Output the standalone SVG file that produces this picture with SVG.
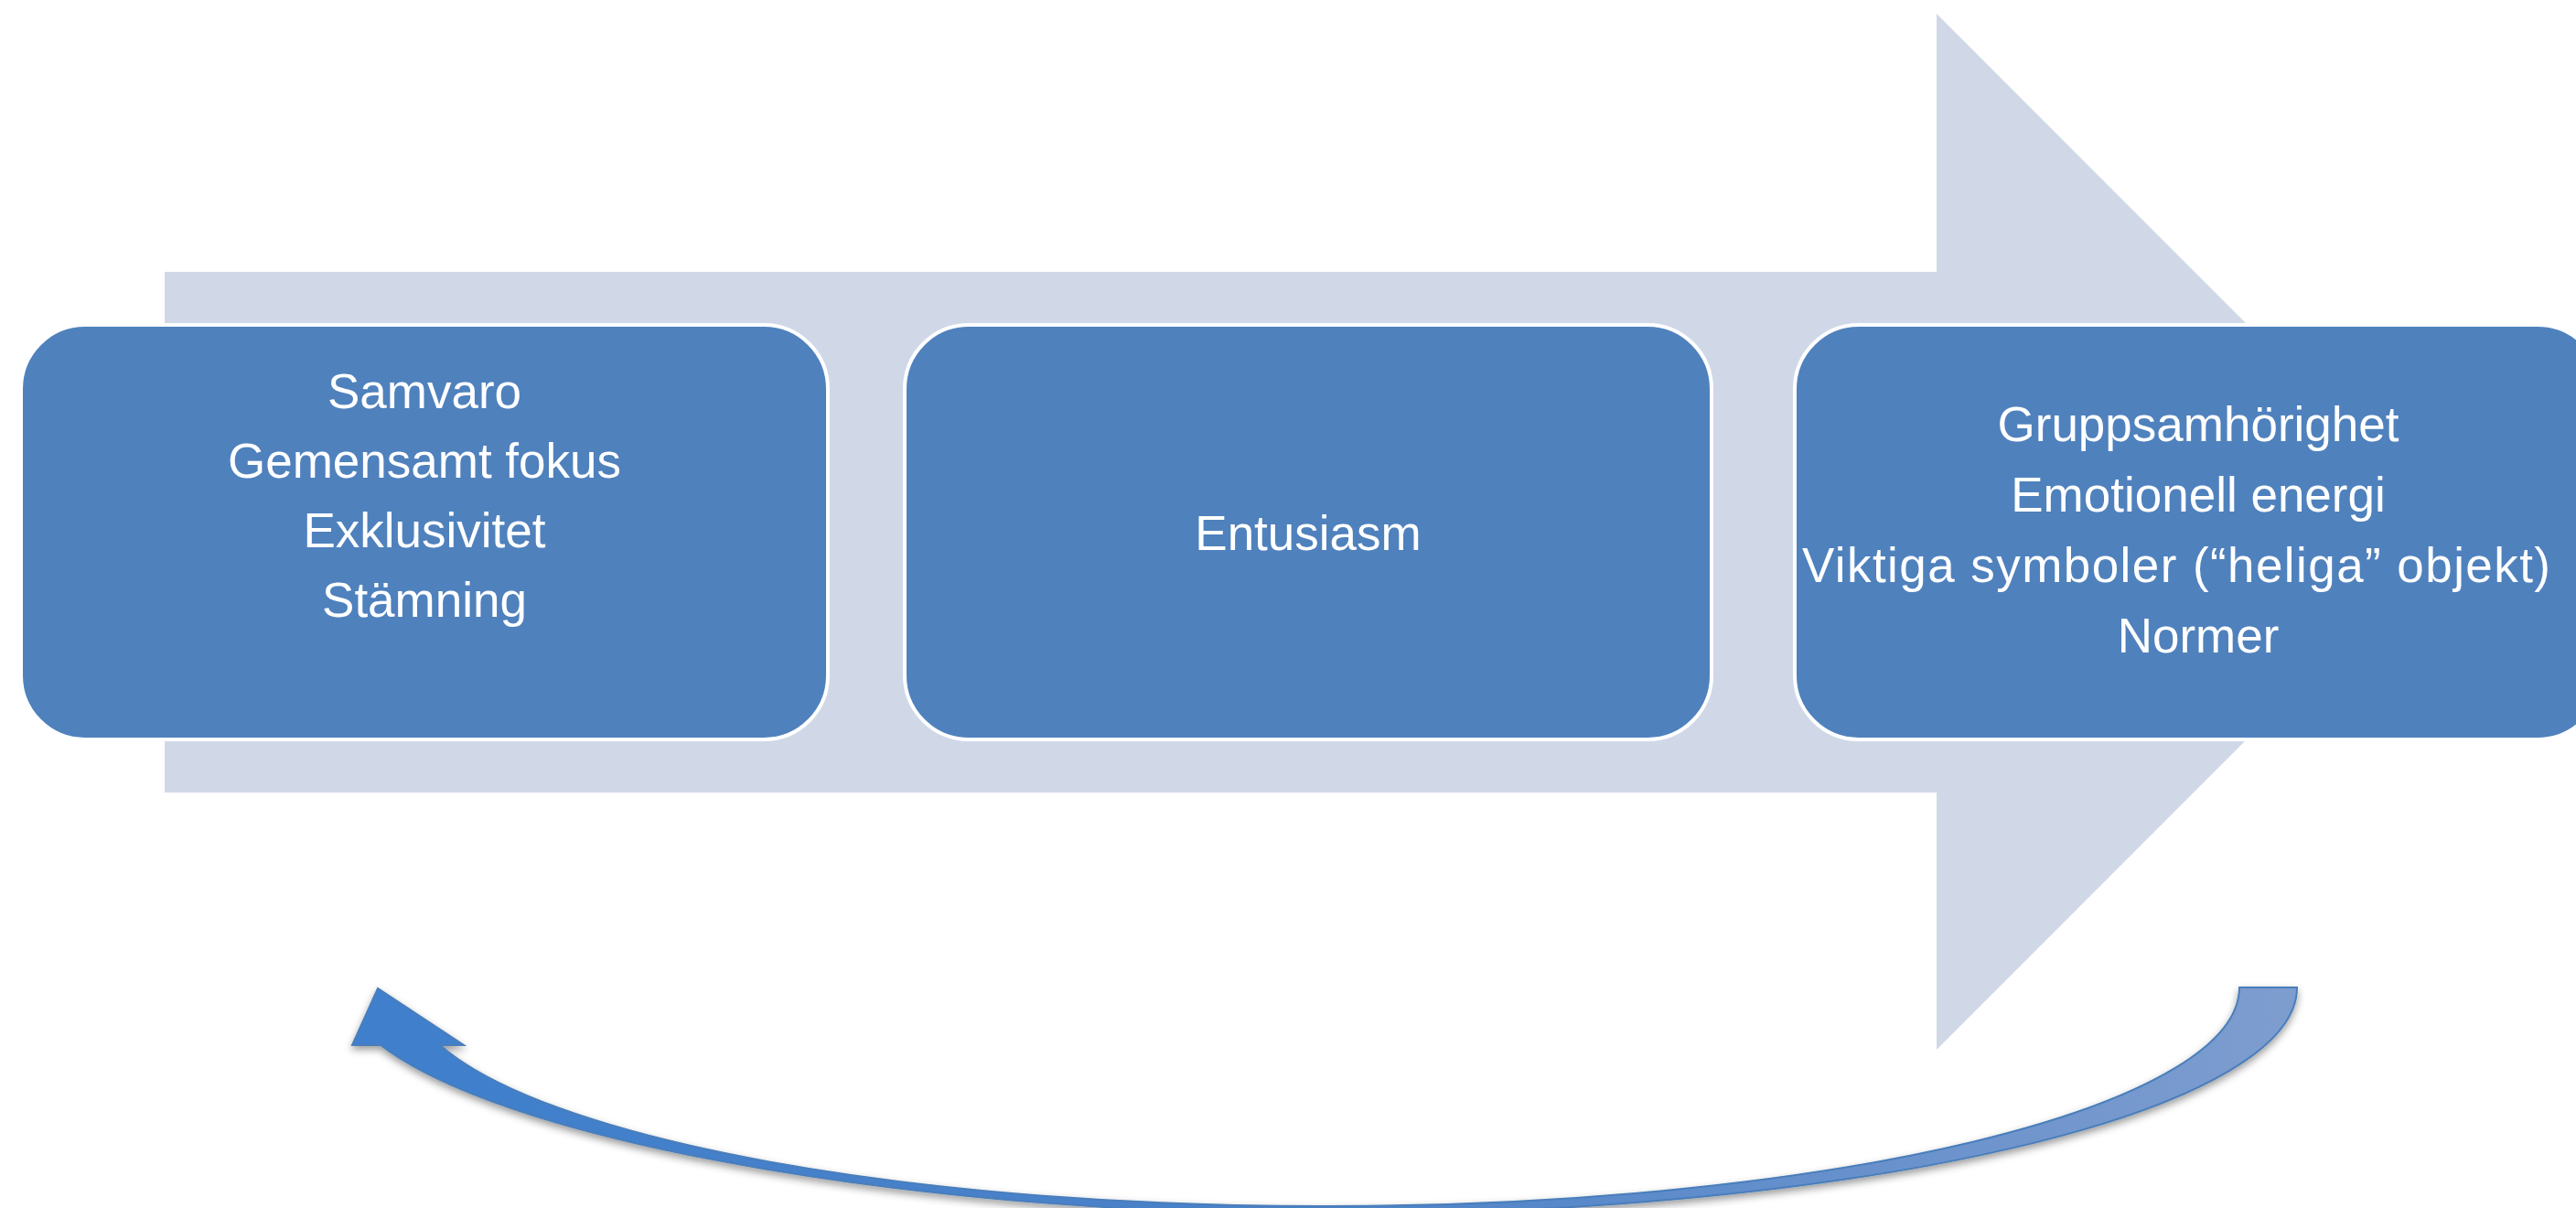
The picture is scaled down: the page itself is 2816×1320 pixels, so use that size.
<svg xmlns="http://www.w3.org/2000/svg" width="2816" height="1320" viewBox="0 0 2816 1320">
  <defs>
    <style>
      .box { fill: #4F81BD; stroke: #FFFFFF; stroke-width: 4; }
      .lbl { font-family: "Liberation Sans", Arial, sans-serif; font-size: 53px; fill: #FFFFFF; text-anchor: middle; }
    </style>
    <linearGradient id="curveGrad" x1="0" y1="0" x2="1" y2="0">
      <stop offset="0" stop-color="#3F7FCC"/>
      <stop offset="0.5" stop-color="#4C82C8"/>
      <stop offset="1" stop-color="#7E9DCF"/>
    </linearGradient>
    <filter id="shadow" x="-5%" y="-20%" width="110%" height="150%">
      <feDropShadow dx="0" dy="4" stdDeviation="4" flood-color="#000000" flood-opacity="0.4"/>
    </filter>
  </defs>
  <rect width="2816" height="1320" fill="#FFFFFF"/>

  <g id="background-arrow">
    <path d="M180,297 L2117,297 L2117,15 L2683,581 L2117,1147 L2117,866 L180,866 Z" fill="#D0D8E8"/>
  </g>

  <g id="node1">
    <rect class="box" x="23" y="355" width="882" height="453" rx="70" ry="70"/>
    <text class="lbl" x="464" y="446">Samvaro</text>
    <text class="lbl" x="464" y="522">Gemensamt fokus</text>
    <text class="lbl" x="464" y="598">Exklusivitet</text>
    <text class="lbl" x="464" y="674">Stämning</text>
  </g>

  <g id="node2">
    <rect class="box" x="989" y="355" width="882" height="453" rx="70" ry="70"/>
    <text class="lbl" x="1430" y="601">Entusiasm</text>
  </g>

  <g id="node3">
    <rect class="box" x="1962" y="355" width="882" height="453" rx="70" ry="70"/>
    <text class="lbl" x="2403" y="482">Gruppsamhörighet</text>
    <text class="lbl" x="2403" y="559">Emotionell energi</text>
    <text class="lbl" x="2379" y="636" textLength="818" lengthAdjust="spacing">Viktiga symboler (“heliga” objekt)</text>
    <text class="lbl" x="2403" y="713">Normer</text>
  </g>

  <g id="connectors">
    <path d="M2448,1079 A998,239 0 0 1 1450,1318 A998,239 0 0 1 481,1142 L507,1142 L413,1080 L385,1142 L416,1142 C566,1256 1040,1327 1450,1327 A1061,248 0 0 0 2511,1079 Z"
          fill="url(#curveGrad)" stroke="#4A7EBB" stroke-width="2" stroke-linejoin="miter" filter="url(#shadow)"/>
  </g>
</svg>
